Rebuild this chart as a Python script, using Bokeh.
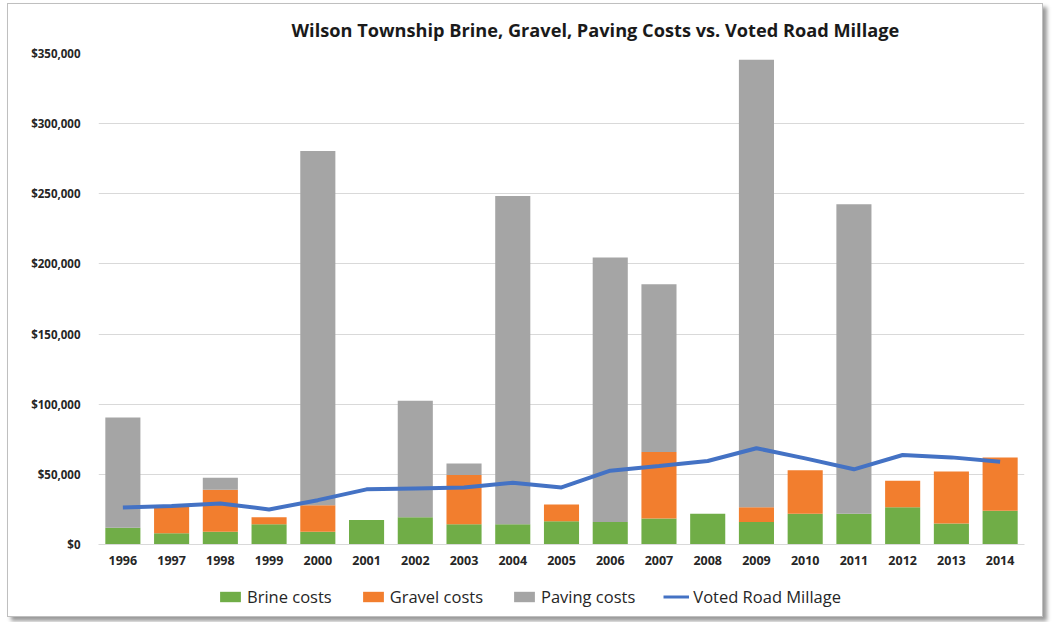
from bokeh.plotting import figure
from bokeh.layouts import column
from bokeh.models import ColumnDataSource, FactorRange, NumeralTickFormatter, FixedTicker, Legend
from bokeh.embed import file_html
from bokeh.resources import INLINE

years = [str(y) for y in range(1996, 2015)]
brine = [12000, 8000, 9000, 14500, 9000, 17500, 19500, 14500, 14500, 16500,
         16000, 18500, 22000, 16000, 22000, 22000, 26500, 15000, 24000]
gravel = [0, 20000, 30000, 5000, 19000, 0, 0, 35000, 0, 12000,
          0, 47500, 0, 10500, 31000, 0, 19000, 37000, 38000]
paving = [78500, 0, 8500, 0, 252500, 0, 83000, 8300, 234000, 0,
          188500, 119500, 0, 319000, 0, 220500, 0, 0, 0]
millage = [26400, 27400, 29300, 25000, 31600, 39300, 40000, 40700, 44000, 40700,
           52600, 55900, 59500, 68600, 61400, 53600, 63800, 62100, 59000]
y_ticks = [0, 50000, 100000, 150000, 200000, 250000, 300000, 350000]
series = ["brine", "gravel", "paving"]
series_labels = ["Brine costs", "Gravel costs", "Paving costs"]
colors = ["#70AD47", "#F27E2E", "#A5A5A5"]
line_label = "Voted Road Millage"
line_color = "#4472C4"

src = ColumnDataSource(dict(year=years, brine=brine, gravel=gravel, paving=paving, millage=millage))

p = figure(x_range=FactorRange(*years), y_range=(0, 350000), width=1034, height=574,
           output_backend="svg", toolbar_location=None,
           title="Wilson Township Brine, Gravel, Paving Costs vs. Voted Road Millage",
           min_border_left=90, min_border_right=18, min_border_top=49, min_border_bottom=34)

p.title.text_font = "Open Sans"
p.title.text_font_size = "18.2px"
p.title.text_font_style = "bold"
p.title.text_color = "#1a1a1a"
p.title.align = "left"
p.title.offset = 193
p.title.standoff = 23

bars = p.vbar_stack(series, x="year", width=0.72, source=src, color=colors, line_color=None)
ln = p.line(x="year", y="millage", source=src, line_color=line_color, line_width=4)

p.outline_line_color = None
p.xgrid.grid_line_color = None
p.ygrid.grid_line_color = "#D9D9D9"
p.ygrid.ticker = FixedTicker(ticks=y_ticks)
p.yaxis.ticker = FixedTicker(ticks=y_ticks)
p.yaxis.formatter = NumeralTickFormatter(format="$0,0")
p.yaxis.axis_line_color = None
p.xaxis.axis_line_color = "#D9D9D9"
for ax in (p.xaxis, p.yaxis):
    ax.major_tick_line_color = None
    ax.minor_tick_line_color = None
    ax.major_tick_out = 0
    ax.major_tick_in = 0
    ax.major_label_text_font = "Open Sans"
    ax.major_label_text_font_style = "bold"
    ax.major_label_text_color = "#262626"
p.yaxis.major_label_text_font_size = "11.5px"
p.xaxis.major_label_text_font_size = "12.5px"
p.xaxis.major_label_standoff = 11
p.yaxis.major_label_standoff = 18

# legend strip below the chart
lg = figure(x_range=p.x_range, y_range=p.y_range, width=1034, height=38,
            output_backend="svg", toolbar_location=None,
            x_axis_location=None, y_axis_location=None,
            min_border_left=0, min_border_right=0, min_border_top=0, min_border_bottom=0)
lg.outline_line_color = None
lg.grid.visible = False
items = []
for s, lab, c in zip(series, series_labels, colors):
    r = lg.vbar(x="year", top=s, width=0.72, source=src, color=c, line_color=None, visible=False)
    items.append((lab, [r]))
rl = lg.line(x="year", y="millage", source=src, line_color=line_color, line_width=3, visible=False)
items.append((line_label, [rl]))
legend = Legend(items=items, orientation="horizontal", location=(119, 8),
                label_text_font="Open Sans", label_text_font_size="16.5px",
                label_text_color="#262626", glyph_width=26, glyph_height=13,
                label_standoff=4, spacing=28, border_line_color=None,
                background_fill_alpha=0, inactive_fill_alpha=0, margin=0, padding=3)
lg.add_layout(legend, "center")

layout = column(p, lg, spacing=0)
layout.styles = {"border": "1px solid #BFBFBF", "box-shadow": "4px 4px 4px #9a9a9a",
                 "margin-left": "7px", "margin-top": "3px"}

open("out.html", "w").write(file_html(layout, INLINE))
